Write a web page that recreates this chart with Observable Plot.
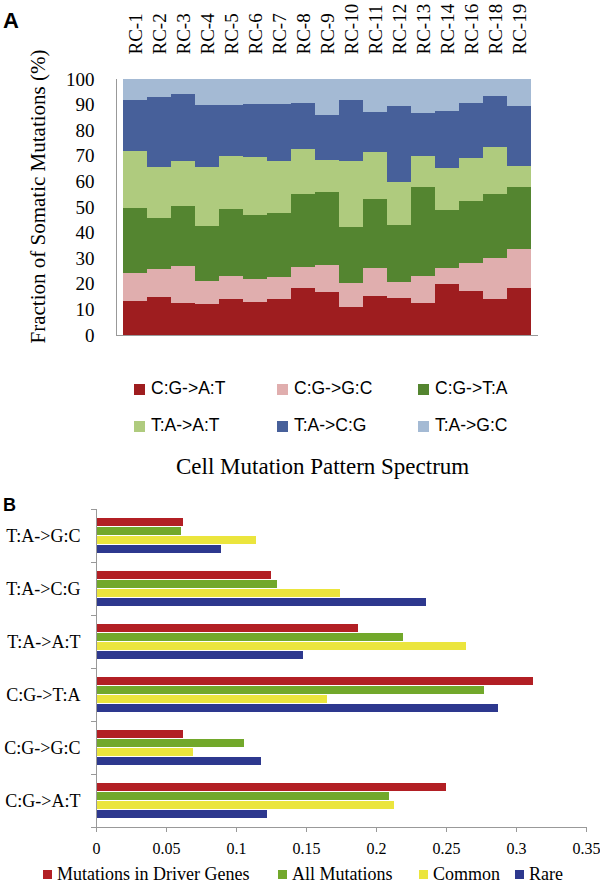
<!DOCTYPE html>
<html><head><meta charset="utf-8">
<script src="https://cdn.jsdelivr.net/npm/d3@7"></script>
<script src="https://cdn.jsdelivr.net/npm/@observablehq/plot@0.6"></script>
<style>
body{margin:0;background:#fff;}
#wrap{position:relative;width:600px;height:884px;overflow:hidden;background:#fff;}
.panel{position:absolute;font-family:"Liberation Sans",Arial,sans-serif;font-weight:bold;color:#000;}
.legA{position:absolute;font-family:"Liberation Sans",Arial,sans-serif;font-size:17.5px;color:#000;display:flex;align-items:center;white-space:nowrap;line-height:1;}
.legA span.sw{display:inline-block;width:11px;height:11px;margin-right:6px;}
.legB{position:absolute;font-family:"Liberation Serif","Times New Roman",serif;font-size:18px;color:#000;display:flex;align-items:center;white-space:nowrap;line-height:1;}
.legB span.sw{display:inline-block;width:9px;height:9px;margin-right:5px;}
#titleB{position:absolute;left:176px;font-family:"Liberation Serif","Times New Roman",serif;font-size:23px;color:#000;top:455px;line-height:1;white-space:nowrap;}
svg text{font-family:"Liberation Serif","Times New Roman",serif;}
</style></head>
<body><div id="wrap"></div>
<script>
// ---------- Panel A data ----------
const samples = ["RC-1","RC-2","RC-3","RC-4","RC-5","RC-6","RC-7","RC-8","RC-9","RC-10","RC-11","RC-12","RC-13","RC-14","RC-16","RC-18","RC-19"];
const mutTypes = ["C:G->A:T","C:G->G:C","C:G->T:A","T:A->A:T","T:A->C:G","T:A->G:C"];
const cgAT = [13.3,15.0,12.6,12.1,14.1,13.0,14.0,18.3,16.9,11.1,15.4,14.4,12.4,19.8,17.3,14.1,18.3];
const cgGC = [10.8,10.8,14.5, 9.1, 9.0, 8.9, 8.6, 8.2,10.5, 9.4,10.9, 6.4,10.8, 6.3,10.7,15.9,15.2];
const cgTA = [25.4,19.8,23.3,21.4,26.0,25.1,25.2,28.6,28.3,21.6,26.9,22.2,34.8,22.8,24.3,25.0,24.3];
const taAT = [22.2,20.0,17.4,23.0,20.9,22.5,20.0,17.6,12.5,26.0,18.1,16.7,12.1,16.5,17.0,18.6, 8.4];
const taCG = [20.2,27.2,26.3,24.3,19.7,20.7,22.4,17.9,17.6,23.8,16.0,29.9,16.6,22.2,21.3,19.9,23.4];
const taGC = [ 8.1, 7.2, 5.9,10.1,10.3, 9.8, 9.8, 9.4,14.2, 8.1,12.7,10.4,13.3,12.4, 9.4, 6.5,10.4];
const yTicksA = [0,10,20,30,40,50,60,70,80,90,100];
const yLabelA = "Fraction of Somatic Mutations (%)";
const colorsA = ["#9E1D1F","#E0AEAE","#548530","#AFCB7E","#47609A","#A4BAD4"];

// ---------- Panel B data ----------
const categoriesB = ["T:A->G:C","T:A->C:G","T:A->A:T","C:G->T:A","C:G->G:C","C:G->A:T"];
const seriesB = ["Mutations in Driver Genes","All Mutations","Common","Rare"];
const driver = [0.062,0.125,0.187,0.312,0.062,0.250];
const allMut = [0.061,0.129,0.219,0.277,0.106,0.209];
const common = [0.114,0.174,0.264,0.165,0.069,0.213];
const rare   = [0.089,0.236,0.148,0.287,0.118,0.122];
const xTicksB = [0,0.05,0.1,0.15,0.2,0.25,0.3,0.35];
const colorsB = ["#B21F24","#72A82B","#EBE53D","#2D388E"];

const SERIF = "Liberation Serif, Times New Roman, serif";
const wrap = document.getElementById("wrap");

// ---------- Panel A ----------
const seriesA = [cgAT, cgGC, cgTA, taAT, taCG, taGC];
const tableA = [];
mutTypes.forEach((t, i) => samples.forEach((s, j) => tableA.push({sample: s, type: t, value: seriesA[i][j]})));

const mLA = 116;
const plotA = Plot.plot({
  width: 600, height: 345,
  marginTop: 79, marginBottom: 10, marginLeft: mLA, marginRight: 62,
  style: {fontFamily: SERIF, fontSize: "19px", color: "#000", background: "transparent"},
  x: {domain: samples, padding: 0, axis: null},
  y: {domain: [0, 100], axis: null},
  color: {domain: mutTypes, range: colorsA},
  marks: [
    Plot.barY(tableA, {x: "sample", y: "value", fill: "type", shapeRendering: "crispEdges"}),
    Plot.frame({anchor: "left", stroke: "#999"}),
    Plot.ruleY([0], {stroke: "#999"}),
    Plot.axisX({anchor: "top", tickRotate: -90, tickSize: 0, tickPadding: 25, fontSize: 19, fontFamily: SERIF, label: null}),
    Plot.axisY({ticks: yTicksA, tickSize: 0, tickPadding: 22, fontSize: 19, fontFamily: SERIF, label: null}),
    Plot.text([yLabelA], {frameAnchor: "left", rotate: -90, dx: -(mLA - 38), dy: -11,
      fontSize: 21, fontFamily: SERIF, textAnchor: "middle", lineAnchor: "middle", fill: "#000"})
  ]
});
plotA.style.position = "absolute"; plotA.style.left = "0px"; plotA.style.top = "0px";
wrap.appendChild(plotA);

const aLbl = document.createElement("div");
aLbl.className = "panel"; aLbl.textContent = "A";
aLbl.style.cssText += "left:3px;top:8px;font-size:22px;";
wrap.appendChild(aLbl);

// Legend A
const legAx = [134, 277, 418];
const legAy = [389, 426];
mutTypes.forEach((t, i) => {
  const d = document.createElement("div");
  d.className = "legA";
  d.style.left = legAx[i % 3] + "px";
  d.style.top = (legAy[Math.floor(i / 3)] - 10) + "px";
  d.style.height = "20px";
  d.innerHTML = `<span class="sw" style="background:${colorsA[i]}"></span><span></span>`;
  d.lastChild.textContent = t;
  wrap.appendChild(d);
});

// ---------- Title B ----------
const tB = document.createElement("div");
tB.id = "titleB"; tB.textContent = "Cell Mutation Pattern Spectrum";
wrap.appendChild(tB);

const bLbl = document.createElement("div");
bLbl.className = "panel"; bLbl.textContent = "B";
bLbl.style.cssText += "left:3px;top:495px;font-size:18px;";
wrap.appendChild(bLbl);

// ---------- Panel B ----------
const seriesVals = [driver, allMut, common, rare];
const tableB = [];
categoriesB.forEach((c, i) => seriesB.forEach((s, k) => tableB.push({category: c, series: s, value: seriesVals[k][i]})));

const mL = 96, mR = 14, W = 600;
const plotB = Plot.plot({
  width: W, height: 380,
  marginTop: 28.3, marginBottom: 32.5, marginLeft: mL, marginRight: mR,
  style: {fontFamily: SERIF, fontSize: "16px", color: "#000", background: "transparent"},
  x: {domain: [0, 0.35], axis: null},
  y: {domain: seriesB, paddingInner: 0.07, paddingOuter: 0.78, axis: null},
  fy: {domain: categoriesB, padding: 0, axis: null},
  color: {domain: seriesB, range: colorsB},
  marks: [
    Plot.barX(tableB, {x: "value", y: "series", fy: "category", fill: "series", shapeRendering: "crispEdges"}),
    Plot.frame({anchor: "left", stroke: "#999"}),
    Plot.frame({anchor: "top", stroke: "#999", insetLeft: -5, insetRight: W - mL - mR}),
    Plot.frame({anchor: "bottom", stroke: "#999", facetAnchor: "bottom", insetLeft: -5}),
    Plot.axisX({anchor: "bottom", ticks: xTicksB, tickSize: 5, tickPadding: 10, stroke: "#999",
      tickFormat: d => String(+d.toFixed(2)), fontSize: 16, fontFamily: SERIF, label: null}),
    Plot.axisFy({anchor: "left", tickSize: 0, tickPadding: 16, fontSize: 18, fontFamily: SERIF, label: null})
  ]
});
plotB.style.position = "absolute"; plotB.style.left = "0px"; plotB.style.top = "480px";
wrap.appendChild(plotB);

// Legend B
const legBx = [43, 278, 419, 515];
seriesB.forEach((s, i) => {
  const d = document.createElement("div");
  d.className = "legB";
  d.style.left = legBx[i] + "px";
  d.style.top = "865px";
  d.style.height = "18px";
  d.innerHTML = `<span class="sw" style="background:${colorsB[i]}"></span><span></span>`;
  d.lastChild.textContent = s;
  wrap.appendChild(d);
});
</script>
</body></html>
